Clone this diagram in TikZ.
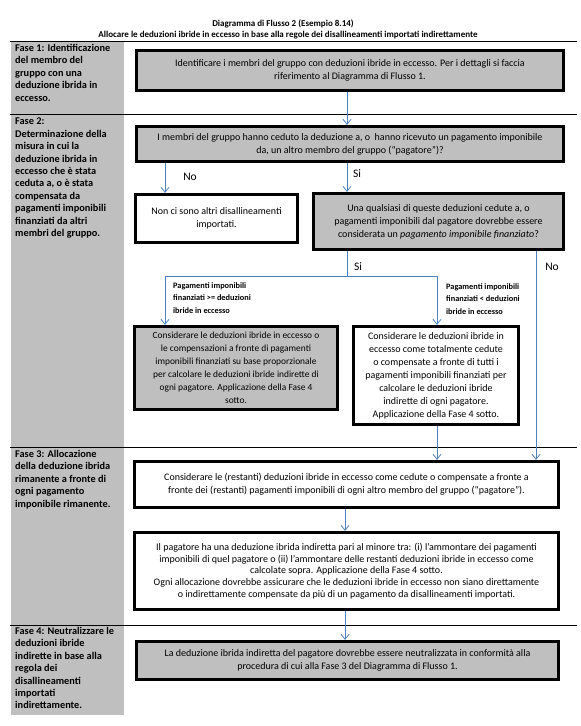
\documentclass[tikz,border=0pt]{standalone}
\usepackage{fontspec}
\setmainfont{Carlito}
\usetikzlibrary{arrows.meta}
\definecolor{fasegray}{RGB}{191,191,191}
\definecolor{arrowblue}{RGB}{79,129,189}

\begin{document}
\begin{tikzpicture}[x=1pt, y=-1pt,
  box/.style={draw, line width=3.2pt, fill=fasegray, align=center, inner sep=0pt,
    font=\fontsize{10}{13}\selectfont},
  wbox/.style={box, fill=white},
  fase/.style={anchor=north west, align=left, inner sep=0pt,
    font=\fontsize{10.3}{12.4}\selectfont\bfseries},
  cond/.style={anchor=north west, align=left, inner sep=0pt,
    font=\fontsize{8.3}{12.5}\selectfont\bfseries},
  yesno/.style={inner sep=0pt, font=\fontsize{11.5}{12}\selectfont},
  link/.style={draw=arrowblue, line width=0.8pt},
  arr/.style={link, -{Straight Barb[length=5pt, width=8pt]}}]
\useasboundingbox (0,0) rectangle (581,726);

% left column and phase rules
\fill[fasegray] (11,42) rectangle (124,715);
\foreach \y in {41,114,447,625}
  \draw[line width=0.8pt] (10,\y) -- (577,\y);

\node[font=\fontsize{9}{11}\selectfont\bfseries] (title) at (283,24) {Diagramma di Flusso 2 (Esempio 8.14)};
\node[font=\fontsize{9}{11}\selectfont\bfseries] (subtitle) at (288,35) {Allocare le deduzioni ibride in eccesso in base alla regole dei disallineamenti importati indirettamente};

\node[fase] (fase1) at (15,44) {Fase 1: Identificazione\\del membro del\\gruppo con una\\deduzione ibrida in\\eccesso.};
\node[fase] (fase2) at (15,118) {Fase 2:\\Determinazione della\\misura in cui la\\deduzione ibrida in\\eccesso che è stata\\ceduta a, o è stata\\compensata da\\pagamenti imponibili\\finanziati da altri\\membri del gruppo.};
\node[fase] (fase3) at (15,450) {Fase 3: Allocazione\\della deduzione ibrida\\rimanente a fronte di\\ogni pagamento\\imponibile rimanente.};
\node[fase] (fase4) at (15,627) {Fase 4: Neutralizzare le\\deduzioni ibride\\indirette in base alla\\regola dei\\disallineamenti\\importati\\indirettamente.};

% boxes
\node[box, minimum width=427, minimum height=40] (ident) at (350,70.5) {Identificare i membri del gruppo con deduzioni ibride in eccesso. Per i dettagli si faccia\\riferimento al Diagramma di Flusso 1.};
\node[box, minimum width=427, minimum height=35] (ceduto) at (350,144) {I membri del gruppo hanno ceduto la deduzione a, o\ \ hanno ricevuto un pagamento imponibile\\da, un altro membro del gruppo (“pagatore”)?};
\node[wbox, minimum width=162, minimum height=48] (nessuno) at (216.5,218.5) {Non ci sono altri disallineamenti\\importati.};
\node[box, minimum width=250, minimum height=56] (finanz) at (438.5,221.5) {Una qualsiasi di queste deduzioni cedute a, o\\pagamenti imponibili dal pagatore dovrebbe essere\\considerata un \textit{pagamento imponibile finanziato}?};
\node[box, minimum width=203, minimum height=83, font=\fontsize{9.4}{13}\selectfont] (propor) at (236,368) {Considerare le deduzioni ibride in eccesso o\\le compensazioni a fronte di pagamenti\\imponibili finanziati su base proporzionale\\per calcolare le deduzioni ibride indirette di\\ogni pagatore. Applicazione della Fase 4\\sotto.};
\node[wbox, minimum width=165, minimum height=98] (totale) at (436,375.5) {Considerare le deduzioni ibride in\\eccesso come totalmente cedute\\o compensate a fronte di tutti i\\pagamenti imponibili finanziati per\\calcolare le deduzioni ibride\\indirette di ogni pagatore.\\Applicazione della Fase 4 sotto.};
\node[wbox, minimum width=424, minimum height=46] (restanti) at (346.5,484.5) {Considerare le (restanti) deduzioni ibride in eccesso come cedute o compensate a fronte a\\fronte dei (restanti) pagamenti imponibili di ogni altro membro del gruppo (“pagatore”).};
\node[wbox, minimum width=424, minimum height=77, font=\fontsize{10}{11.8}\selectfont] (minore) at (346.5,571) {Il pagatore ha una deduzione ibrida indiretta pari al minore tra: (i) l’ammontare dei pagamenti\\imponibili di quel pagatore o (ii) l’ammontare delle restanti deduzioni ibride in eccesso come\\calcolate sopra. Applicazione della Fase 4 sotto.\\Ogni allocazione dovrebbe assicurare che le deduzioni ibride in eccesso non siano direttamente\\o indirettamente compensate da più di un pagamento da disallineamenti importati.};
\node[box, minimum width=422, minimum height=38] (neutral) at (347.5,660.5) {La deduzione ibrida indiretta del pagatore dovrebbe essere neutralizzata in conformità alla\\procedura di cui alla Fase 3 del Diagramma di Flusso 1.};

% lanes of the connectors
\coordinate (laneL) at (165,0);
\coordinate (laneM) at (347,0);
\coordinate (laneR) at (437,0);
\coordinate (laneNo) at (536,0);
\coordinate (fork) at (347,276);

\draw[arr] (ident.south -| laneM) -- (ceduto.north -| laneM);
\draw[arr] (ceduto.south -| laneL) -- (nessuno.north -| laneL);
\draw[arr] (ceduto.south -| laneM) -- (finanz.north -| laneM);
\draw[link] (finanz.south -| laneM) -- (fork);
\draw[arr] (fork) -| (propor.north -| laneL);
\draw[arr] (fork) -| (totale.north -| laneR);
\draw[arr] (finanz.south -| laneNo) -- (restanti.north -| laneNo);
\draw[arr] (totale.south -| laneR) -- (restanti.north -| laneR);
\draw[arr] (restanti.south -| 345,0) -- (minore.north -| 345,0);
\draw[arr] (minore.south -| 345,0) -- (neutral.north -| 345,0);

\node[yesno] (no1) at (190,177) {No};
\node[yesno] (si1) at (357,174) {Si};
\node[yesno] (si2) at (358,267) {Si};
\node[yesno] (no2) at (552,267) {No};

\node[cond] (maggiore) at (173,282) {Pagamenti imponibili\\finanziati >= deduzioni\\ibride in eccesso};
\node[cond] (minorecond) at (446,283) {Pagamenti imponibili\\finanziati < deduzioni\\ibride in eccesso};
\end{tikzpicture}
\end{document}
